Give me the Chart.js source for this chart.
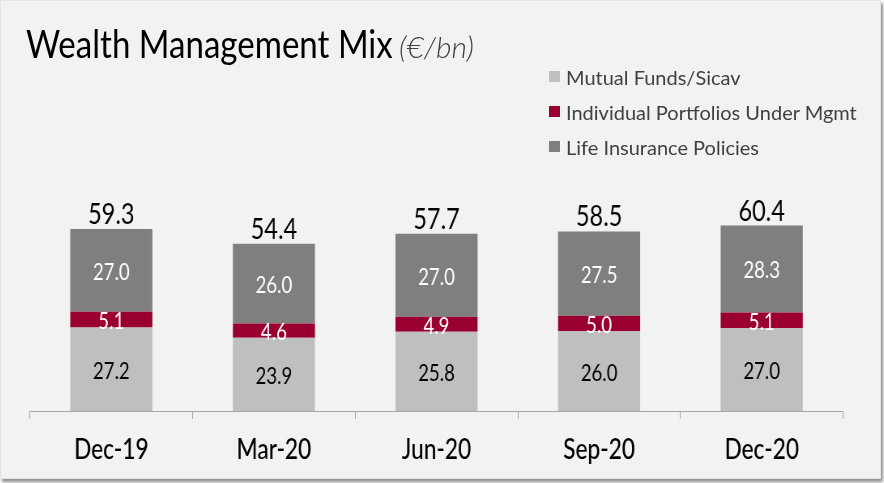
<!DOCTYPE html>
<html>
<head>
<meta charset="utf-8">
<script src="https://cdn.jsdelivr.net/npm/chart.js@4.4.1/dist/chart.umd.min.js"></script>
<style>
  html, body { margin: 0; padding: 0; background: #ffffff; }
  body { width: 884px; height: 483px; overflow: hidden; position: relative; font-family: Lato, "Open Sans", sans-serif; }
  #frame {
    position: absolute; left: 0; top: 0; width: 879px; height: 477px;
    background: #f2f2f2; border: 1px solid #e4e4e4;
    box-shadow: 2px 3px 3px rgba(0,0,0,0.45);
    overflow: hidden;
  }
  #stage { position: absolute; left: 0; top: 0; height: 483px; transform-origin: 0 0; }
  #title { position: absolute; left: 25px; top: 23px; white-space: nowrap; font-size: 38px; color: #000; line-height: 1;
           transform: scaleX(0.87); transform-origin: 0 0; }
  #unit { position: absolute; left: 398px; top: 30px; white-space: nowrap; font-size: 30px; line-height: 1;
          font-style: italic; font-weight: 300; color: #404040; }
  #legend { position: absolute; left: 548px; top: 58px; }
  .item { display: flex; align-items: center; height: 35px; font-size: 20px; color: #404040; white-space: nowrap; }
  .swatch { width: 11px; height: 11px; margin-right: 6px; }
  canvas { position: absolute; left: 0; top: 0; }
</style>
</head>
<body>
<div id="frame">
  <div id="stage"><canvas id="chart"></canvas></div>
  <div id="title">Wealth Management Mix</div>
  <div id="unit">(€/bn)</div>
  <div id="legend"></div>
</div>
<script>
// Quarter-end wealth management stock, € billions
const categories = ['Dec-19', 'Mar-20', 'Jun-20', 'Sep-20', 'Dec-20'];
const mutualFunds = [27.2, 23.9, 25.8, 26.0, 27.0];
const individualPortfolios = [5.1, 4.6, 4.9, 5.0, 5.1];
const lifeInsurance = [27.0, 26.0, 27.0, 27.5, 28.3];
const totals = [59.3, 54.4, 57.7, 58.5, 60.4];
const seriesNames = ['Mutual Funds/Sicav', 'Individual Portfolios Under Mgmt', 'Life Insurance Policies'];
const seriesColors = ['#bfbfbf', '#990030', '#7f7f7f'];
const labelColors = ['#000000', '#ffffff', '#ffffff'];

// The chart canvas is laid out wider and squeezed horizontally
const SQUEEZE = 0.81;
const W = Math.round(884 / SQUEEZE);
const H = 483;
const stage = document.getElementById('stage');
stage.style.width = W + 'px';
stage.style.transform = 'scaleX(' + SQUEEZE + ')';

const legend = document.getElementById('legend');
seriesNames.forEach((name, i) => {
  const row = document.createElement('div');
  row.className = 'item';
  const sw = document.createElement('span');
  sw.className = 'swatch';
  sw.style.background = seriesColors[i];
  row.appendChild(sw);
  row.appendChild(document.createTextNode(name));
  legend.appendChild(row);
});

const canvas = document.getElementById('chart');
canvas.width = W;
canvas.height = H;

const AXIS_Y = 410;
const Y_MAX = 100;
const PX_PER_UNIT = 3.07;

const valueLabels = {
  id: 'valueLabels',
  afterDatasetsDraw(chart) {
    const ctx = chart.ctx;
    ctx.save();
    ctx.textAlign = 'center';
    ctx.textBaseline = 'middle';
    chart.data.datasets.forEach((ds, di) => {
      const meta = chart.getDatasetMeta(di);
      meta.data.forEach((bar, i) => {
        const yc = (bar.y + bar.base) / 2;
        ctx.font = '23px Lato';
        ctx.fillStyle = labelColors[di];
        ctx.fillText(ds.data[i].toFixed(1), bar.x, yc + 2);
      });
    });
    // totals above each stack
    const top = chart.getDatasetMeta(chart.data.datasets.length - 1);
    ctx.textBaseline = 'alphabetic';
    ctx.font = '29px Lato';
    ctx.fillStyle = '#000000';
    top.data.forEach((bar, i) => {
      ctx.fillText(totals[i].toFixed(1), bar.x, bar.y - 5);
    });
    ctx.restore();
  }
};

new Chart(canvas, {
  type: 'bar',
  data: {
    labels: categories,
    datasets: [
      { label: seriesNames[0], data: mutualFunds, backgroundColor: seriesColors[0] },
      { label: seriesNames[1], data: individualPortfolios, backgroundColor: seriesColors[1] },
      { label: seriesNames[2], data: lifeInsurance, backgroundColor: seriesColors[2] }
    ]
  },
  options: {
    responsive: false,
    animation: false,
    events: [],
    categoryPercentage: 1,
    barPercentage: 0.505,
    layout: {
      padding: { left: 29 / SQUEEZE, right: W - 842 / SQUEEZE, top: AXIS_Y - Y_MAX * PX_PER_UNIT, bottom: 0 }
    },
    plugins: { legend: { display: false }, tooltip: { enabled: false }, title: { display: false } },
    scales: {
      x: {
        stacked: true,
        afterFit(scale) { scale.height = H - AXIS_Y; },
        border: { display: true, color: '#a6a6a6', width: 1 },
        grid: { display: true, offset: true, drawOnChartArea: false, drawTicks: true, tickLength: 8, color: '#a6a6a6' },
        ticks: { color: '#000000', font: { family: 'Lato', size: 28, weight: '500' }, padding: 14, maxRotation: 0 }
      },
      y: {
        stacked: true, display: false, min: 0, max: Y_MAX
      }
    }
  },
  plugins: [valueLabels]
});
</script>
</body>
</html>
